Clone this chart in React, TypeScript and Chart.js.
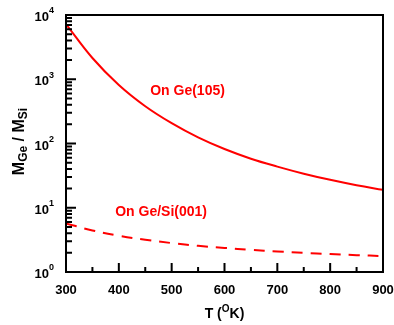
import { useEffect, useRef } from 'react';
import { Chart, registerables } from 'chart.js';

Chart.register(...registerables);

// ---- data ----
const temperatures = [300, 350, 400, 450, 500, 550, 600, 650, 700, 750, 800, 850, 900];
const onGe105 = [7240, 2140, 813, 380, 207, 124.5, 82, 58, 43.7, 33.9, 27.2, 22.4, 19.05];
const onGeSi001 = [5.7, 4.44, 3.67, 3.18, 2.82, 2.56, 2.37, 2.21, 2.09, 1.99, 1.9, 1.83, 1.77];

const xMajorTicks = [300, 400, 500, 600, 700, 800, 900];
const xMinorTicks = [350, 450, 550, 650, 750, 850];
const yDecadeExponents = [0, 1, 2, 3, 4];
const yMinorMultipliers = [2, 3, 4, 5, 6, 7, 8, 9];

const annotationTexts = ['On Ge(105)', 'On Ge/Si(001)'];
const annotationT = [530, 480];
const annotationM = [650, 8.6];

const xTitleParts = ['T (', 'O', 'K)'];
const yTitleParts = ['M', 'Ge', ' / M', 'Si'];

const FONT = '"Liberation Sans", Arial, Helvetica, sans-serif';
const RED = '#ff0000';

const decorPlugin = {
  id: 'decor',
  afterDatasetsDraw(chart: any) {
    const ctx = chart.ctx as CanvasRenderingContext2D;
    const area = chart.chartArea;
    const xs = chart.scales.x;
    const ys = chart.scales.y;
    ctx.save();

    // annotations
    ctx.fillStyle = RED;
    ctx.font = `bold 14px ${FONT}`;
    ctx.textAlign = 'center';
    ctx.textBaseline = 'middle';
    annotationTexts.forEach((t, i) => {
      ctx.fillText(t, xs.getPixelForValue(annotationT[i]), ys.getPixelForValue(annotationM[i]));
    });

    // frame
    ctx.strokeStyle = '#000';
    ctx.lineWidth = 2;
    ctx.strokeRect(area.left, area.top, area.right - area.left, area.bottom - area.top);

    // x ticks (inward)
    ctx.beginPath();
    xMajorTicks.forEach((v) => {
      const x = xs.getPixelForValue(v);
      ctx.moveTo(x, area.bottom);
      ctx.lineTo(x, area.bottom - 9);
    });
    xMinorTicks.forEach((v) => {
      const x = xs.getPixelForValue(v);
      ctx.moveTo(x, area.bottom);
      ctx.lineTo(x, area.bottom - 5);
    });
    // y ticks (inward, left axis)
    yDecadeExponents.forEach((e) => {
      const y = ys.getPixelForValue(Math.pow(10, e));
      ctx.moveTo(area.left, y);
      ctx.lineTo(area.left + 10, y);
      if (e < yDecadeExponents[yDecadeExponents.length - 1]) {
        yMinorMultipliers.forEach((m) => {
          const ym = ys.getPixelForValue(m * Math.pow(10, e));
          ctx.moveTo(area.left, ym);
          ctx.lineTo(area.left + 6, ym);
        });
      }
    });
    ctx.stroke();

    // x tick labels
    ctx.fillStyle = '#000';
    ctx.font = `bold 13px ${FONT}`;
    ctx.textAlign = 'center';
    ctx.textBaseline = 'middle';
    xMajorTicks.forEach((v) => {
      ctx.fillText(String(v), xs.getPixelForValue(v), area.bottom + 18);
    });

    // y tick labels 10^e
    yDecadeExponents.forEach((e) => {
      const y = ys.getPixelForValue(Math.pow(10, e));
      ctx.font = `bold 9px ${FONT}`;
      const sup = String(e);
      const supW = ctx.measureText(sup).width;
      const right = area.left - 12;
      ctx.textAlign = 'left';
      ctx.fillText(sup, right - supW, y - 4);
      ctx.font = `bold 13px ${FONT}`;
      ctx.textAlign = 'right';
      ctx.fillText('10', right - supW, y + 2.5);
    });

    // x title: T (^O K)
    {
      const sizes = [14, 10, 14];
      const offs = [0, -4.5, 0];
      const widths = xTitleParts.map((p, i) => {
        ctx.font = `bold ${sizes[i]}px ${FONT}`;
        return ctx.measureText(p).width;
      });
      const total = widths.reduce((a, b) => a + b, 0);
      let x = (area.left + area.right) / 2 - total / 2;
      ctx.textAlign = 'left';
      ctx.textBaseline = 'middle';
      xTitleParts.forEach((p, i) => {
        ctx.font = `bold ${sizes[i]}px ${FONT}`;
        ctx.fillText(p, x, area.bottom + 42 + offs[i]);
        x += widths[i];
      });
    }

    // y title: M_Ge / M_Si (rotated)
    {
      const sizes = [16, 12, 16, 12];
      const offs = [0, 3, 0, 3];
      const widths = yTitleParts.map((p, i) => {
        ctx.font = `bold ${sizes[i]}px ${FONT}`;
        return ctx.measureText(p).width;
      });
      const total = widths.reduce((a, b) => a + b, 0);
      ctx.translate(24, (area.top + area.bottom) / 2 - 2);
      ctx.rotate(-Math.PI / 2);
      ctx.textAlign = 'left';
      ctx.textBaseline = 'alphabetic';
      let x = -total / 2;
      yTitleParts.forEach((p, i) => {
        ctx.font = `bold ${sizes[i]}px ${FONT}`;
        ctx.fillText(p, x, offs[i]);
        x += widths[i];
      });
    }
    ctx.restore();
  },
};

export default function App() {
  const canvasRef = useRef<HTMLCanvasElement | null>(null);

  useEffect(() => {
    if (!canvasRef.current) return;
    const chart = new Chart(canvasRef.current, {
      type: 'line',
      data: {
        labels: temperatures,
        datasets: [
          {
            label: 'On Ge(105)',
            data: temperatures.map((t, i) => ({ x: t, y: onGe105[i] })),
            borderColor: RED,
            borderWidth: 2,
            pointRadius: 0,
            tension: 0.4,
            fill: false,
          },
          {
            label: 'On Ge/Si(001)',
            data: temperatures.map((t, i) => ({ x: t, y: onGeSi001[i] })),
            borderColor: RED,
            borderWidth: 2,
            borderDash: [11, 8],
            pointRadius: 0,
            tension: 0.4,
            fill: false,
          },
        ],
      },
      options: {
        responsive: false,
        devicePixelRatio: 1,
        animation: false,
        layout: { padding: { left: 66, right: 11, top: 15, bottom: 53 } },
        plugins: { legend: { display: false }, tooltip: { enabled: false } },
        scales: {
          x: { type: 'linear', min: 300, max: 900, display: false },
          y: { type: 'logarithmic', min: 1, max: 10000, display: false },
        },
      },
      plugins: [decorPlugin],
    } as any);
    return () => chart.destroy();
  }, []);

  return (
    <div style={{ position: 'fixed', left: 0, top: 0, width: 394, height: 325, background: '#fff' }}>
      <canvas ref={canvasRef} width={394} height={325} />
    </div>
  );
}
